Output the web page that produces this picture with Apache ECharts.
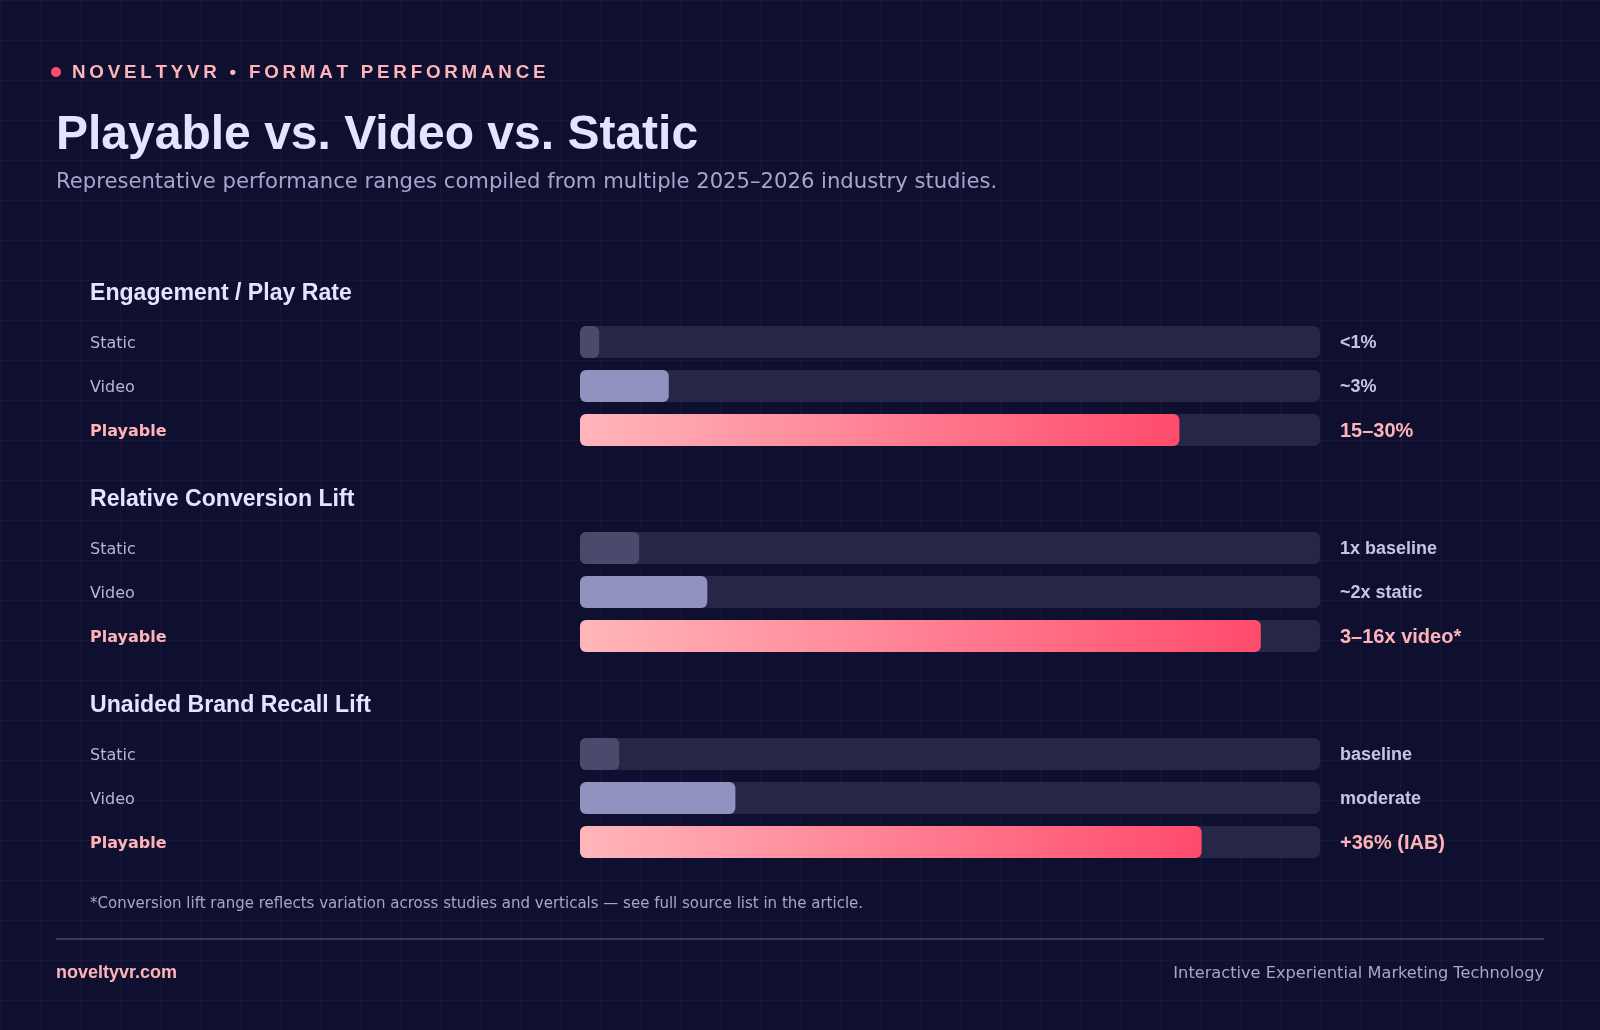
<!DOCTYPE html>
<html>
<head>
<meta charset="utf-8">
<title>Playable vs. Video vs. Static</title>
<script src="https://cdn.jsdelivr.net/npm/echarts@6/dist/echarts.min.js"></script>
<style>
  html, body {
    margin: 0;
    padding: 0;
    background-color: #0f1030;
    background-image:
      linear-gradient(rgba(255, 255, 255, 0.028) 1px, transparent 1px),
      linear-gradient(90deg, rgba(255, 255, 255, 0.028) 1px, transparent 1px);
    background-size: 40px 40px;
  }
  #chart { width: 1600px; height: 1030px; }
</style>
</head>
<body>
<div id="chart"></div>
<script>
  // 数据
  const groups = ['Engagement / Play Rate', 'Relative Conversion Lift', 'Unaided Brand Recall Lift']
  const formats = ['Static', 'Video', 'Playable']
  const engagement = [2.6, 12, 81]
  const conversion = [8, 17.2, 92]
  const recall = [5.3, 21, 84]
  const engagementLabels = ['<1%', '~3%', '15–30%']
  const conversionLabels = ['1x baseline', '~2x static', '3–16x video*']
  const recallLabels = ['baseline', 'moderate', '+36% (IAB)']

  const values = [engagement, conversion, recall]
  const valueLabels = [engagementLabels, conversionLabels, recallLabels]

  const SANS = '"Liberation Sans", Arial, sans-serif'
  const DEJA = '"DejaVu Sans", sans-serif'
  const groupTop = [320, 526, 732]

  const chart = echarts.init(document.getElementById('chart'))

  // 每组一个 grid
  const grid = groupTop.map(t => ({ left: 580, width: 740, top: t, height: 132 }))
  const xAxis = groupTop.map((_, i) => ({
    gridIndex: i, type: 'value', min: 0, max: 100, show: false
  }))
  const yAxis = []
  groupTop.forEach((_, i) => {
    yAxis.push({
      gridIndex: i,
      type: 'category',
      inverse: true,
      data: formats,
      axisLine: { show: false },
      axisTick: { show: false },
      axisLabel: {
        align: 'left',
        margin: 490,
        formatter: v => v === 'Playable' ? '{hi|' + v + '}' : '{lo|' + v + '}',
        rich: {
          lo: { color: '#b6b6da', fontFamily: DEJA, fontSize: 16, padding: [4, 0, 0, 0] },
          hi: { color: '#ffb3b8', fontFamily: DEJA, fontSize: 16, fontWeight: 'bold', padding: [4, 0, 0, 0] }
        }
      }
    })
    yAxis.push({
      gridIndex: i,
      type: 'category',
      position: 'right',
      inverse: true,
      data: valueLabels[i],
      axisLine: { show: false },
      axisTick: { show: false },
      axisLabel: {
        align: 'left',
        margin: 20,
        formatter: (v, idx) => idx === 2 ? '{hi|' + v + '}' : '{lo|' + v + '}',
        rich: {
          lo: { color: '#c4c4e8', fontFamily: SANS, fontSize: 18, fontWeight: 'bold', padding: [2, 0, 0, 0] },
          hi: { color: '#ffb3b8', fontFamily: SANS, fontSize: 20, fontWeight: 'bold', padding: [2, 0, 0, 0] }
        }
      }
    })
  })

  const fills = [
    '#4a4a6d',
    '#9192c0',
    {
      type: 'linear', x: 0, y: 0, x2: 1, y2: 0,
      colorStops: [{ offset: 0, color: '#ffb6ba' }, { offset: 1, color: '#ff4b6c' }]
    }
  ]

  const series = values.map((arr, i) => ({
    type: 'bar',
    xAxisIndex: i,
    yAxisIndex: i * 2,
    barWidth: 32,
    silent: true,
    showBackground: true,
    backgroundStyle: { color: '#262746', borderRadius: 6 },
    data: arr.map((v, k) => ({ value: v, itemStyle: { color: fills[k], borderRadius: 6 } }))
  }))

  // 文字与装饰
  const txt = (text, x, y, font, fill, align) => ({
    type: 'text', x, y, silent: true,
    style: { text, font, fill, align: align || 'left', verticalAlign: 'middle' }
  })
  const kicker = 'NOVELTYVR • FORMAT PERFORMANCE'.split('').join('\u2009')

  const graphic = [
    { type: 'circle', shape: { cx: 56, cy: 72, r: 5 }, style: { fill: '#ff4d6d' }, silent: true },
    txt(kicker, 72, 72.5, 'bold 18.8px ' + SANS, '#ffb3b8'),
    txt('Playable vs. Video vs. Static', 56, 136, 'bold 48px ' + SANS, '#e4e4ff'),
    txt('Representative performance ranges compiled from multiple 2025–2026 industry studies.', 56, 183, '21.15px ' + DEJA, '#a6a6cc'),
    ...groups.map((g, i) => txt(g, 90, groupTop[i] - 26, 'bold 23.1px ' + SANS, '#e4e4ff')),
    txt('*Conversion lift range reflects variation across studies and verticals — see full source list in the article.', 90, 904, '15px ' + DEJA, '#a6a6cc'),
    { type: 'line', shape: { x1: 56, y1: 939, x2: 1544, y2: 939 }, style: { stroke: '#3a3a5c', lineWidth: 2 }, silent: true },
    txt('noveltyvr.com', 56, 973.5, 'bold 18px ' + SANS, '#ffb3b8'),
    txt('Interactive Experiential Marketing Technology', 1544, 973.5, '16.2px ' + DEJA, '#a6a6cc', 'right')
  ]

  chart.setOption({
    backgroundColor: 'transparent',
    animation: false,
    grid, xAxis, yAxis, series, graphic
  })
</script>
</body>
</html>
